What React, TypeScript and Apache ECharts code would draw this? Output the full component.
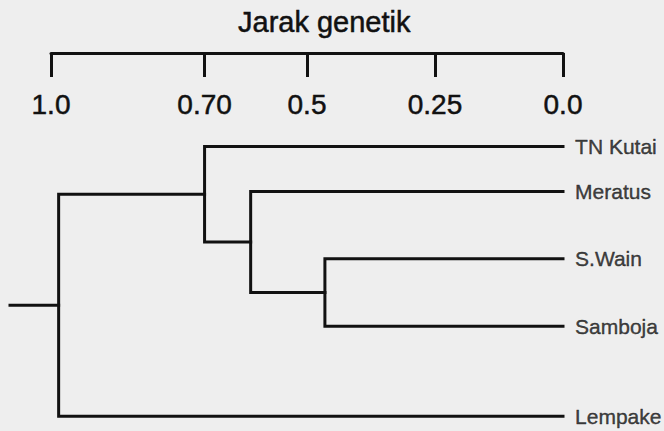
import React, { useEffect, useRef } from "react";
import * as echarts from "echarts";

// Leaves (top to bottom) and their row on the vertical axis
const leaves = ["TN Kutai", "Meratus", "S.Wain", "Samboja", "Lempake"];
const leafRow = [0, 1, 2.5, 4, 6];

// Merges (clusters K1..K4), in order of joining
const mergeA = ["S.Wain", "Meratus", "TN Kutai", "K3"];
const mergeB = ["Samboja", "K1", "K2", "Lempake"];
const mergeHeight = [0.465, 0.61, 0.7, 0.985];

// Top ruler ticks
const tickValues = [1.0, 0.7, 0.5, 0.25, 0.0];
const tickLabels = ["1.0", "0.70", "0.5", "0.25", "0.0"];

const axisTitle = "Jarak genetik";

const FONT = "Liberation Sans, Arial, Helvetica, sans-serif";
const INK = "#111111";
const ROOT_STEM_TO = 1.08;

function buildSegments() {
  const pos: Record<string, { h: number; y: number }> = {};
  leaves.forEach((n, i) => {
    pos[n] = { h: 0, y: leafRow[i] };
  });
  const segs: number[][][] = [];
  let last = "";
  mergeA.forEach((a, i) => {
    const pa = pos[a];
    const pb = pos[mergeB[i]];
    const h = mergeHeight[i];
    const name = "K" + (i + 1);
    pos[name] = { h, y: (pa.y + pb.y) / 2 };
    segs.push([
      [pa.h, pa.y],
      [h, pa.y],
      [h, pb.y],
      [pb.h, pb.y],
    ]);
    last = name;
  });
  const root = pos[last];
  segs.push([
    [root.h, root.y],
    [ROOT_STEM_TO, root.y],
  ]);
  return segs;
}

export default function App() {
  const ref = useRef<HTMLDivElement>(null);
  useEffect(() => {
    if (!ref.current) return;
    const chart = echarts.init(ref.current, undefined, { renderer: "svg" });
    const segs = buildSegments();
    const lineSeries = segs.map((s) => ({
      type: "line",
      xAxisIndex: 1,
      yAxisIndex: 1,
      data: s,
      symbol: "none",
      clip: false,
      silent: true,
      lineStyle: { color: INK, width: 3, cap: "square", join: "miter" },
    }));
    chart.setOption({
      animation: false,
      backgroundColor: "#eeeeee",
      title: {
        text: axisTitle,
        left: 238,
        top: 7,
        padding: 0,
        textStyle: {
          fontSize: 29,
          fontWeight: "normal",
          color: INK,
          fontFamily: FONT,
          textBorderColor: INK,
          textBorderWidth: 0.5,
        },
      },
      grid: [
        { left: 51, right: 101, top: 53, height: 380 },
        { left: 10, right: 101, top: 53, height: 380 },
      ],
      xAxis: [
        {
          gridIndex: 0,
          type: "value",
          position: "top",
          inverse: true,
          min: 0,
          max: 1,
          axisLine: {
            show: true,
            onZero: false,
            lineStyle: { color: INK, width: 3 },
          },
          axisTick: {
            show: true,
            inside: true,
            length: 24,
            customValues: tickValues,
            lineStyle: { color: INK, width: 3 },
          },
          axisLabel: {
            show: true,
            inside: true,
            margin: 37,
            customValues: tickValues,
            fontSize: 28,
            color: INK,
            fontFamily: FONT,
            textBorderColor: INK,
            textBorderWidth: 0.5,
            formatter: (v: number) => {
              const i = tickValues.findIndex((t) => Math.abs(t - v) < 1e-9);
              return i >= 0 ? tickLabels[i] : "";
            },
          },
          splitLine: { show: false },
        },
        {
          gridIndex: 1,
          type: "value",
          inverse: true,
          min: 0,
          max: ROOT_STEM_TO,
          show: false,
        },
      ],
      yAxis: [
        { gridIndex: 0, type: "value", min: 0, max: 1, show: false },
        {
          gridIndex: 1,
          type: "value",
          inverse: true,
          min: -2.08,
          max: 6.33,
          show: false,
        },
      ],
      series: [
        ...lineSeries,
        {
          type: "scatter",
          xAxisIndex: 1,
          yAxisIndex: 1,
          data: leaves.map((n, i) => ({ name: n, value: [0, leafRow[i]] })),
          symbolSize: 0.1,
          itemStyle: { color: "rgba(0,0,0,0)" },
          silent: true,
          clip: false,
          label: {
            show: true,
            position: "right",
            distance: 12,
            formatter: "{b}",
            fontSize: 21,
            lineHeight: 17,
            color: INK,
            fontFamily: FONT,
            textBorderColor: INK,
            textBorderWidth: 0.4,
          },
        },
      ],
    });
    return () => chart.dispose();
  }, []);
  return (
    <div
      ref={ref}
      style={{ position: "absolute", left: 0, top: 0, width: 664, height: 431 }}
    />
  );
}
